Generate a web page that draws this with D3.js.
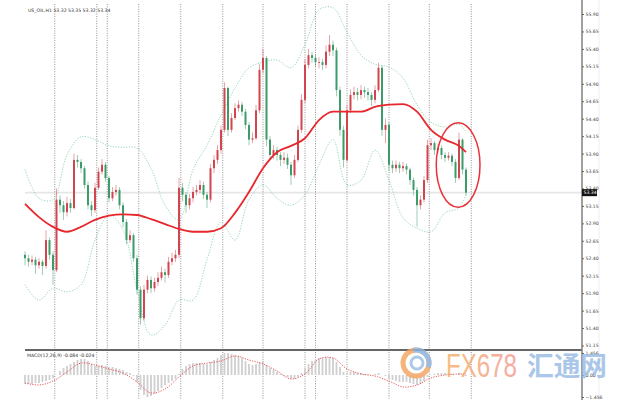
<!DOCTYPE html>
<html>
<head>
<meta charset="utf-8">
<script src="https://cdn.jsdelivr.net/npm/d3@7"></script>
<style>
    body { margin: 0; background: #fff; }
    svg { display: block; }
</style>
</head>
<body>
<div id="canvas"></div>
<script>

// chart values (US_OIL H1, one candle per 2 hours)
const title = "US_OIL,H1  53.32 53.35 53.32 53.34";
const macdTitle = "MACD(12,26,9) -0.084 -0.024";
const firstOpen = 52.45;
const lastPrice = 53.34;

const closes = [
    52.40, 52.35, 52.38, 52.30, 52.35, 52.29, 52.66, 52.45, 52.23, 53.24,
    53.16, 53.06, 53.19, 53.12, 53.81, 53.78, 53.69, 53.45, 53.16, 53.09,
    53.41, 53.64, 53.74, 53.55, 53.26, 53.35, 53.38, 53.16, 52.92, 52.66,
    52.73, 52.40, 51.95, 51.54, 51.95, 52.09, 51.97, 52.06, 52.12, 52.20,
    52.16, 52.35, 52.40, 52.45, 53.41, 53.31, 53.16, 53.26, 53.35, 53.38,
    53.45, 53.31, 53.24, 53.69, 53.81, 53.95, 54.24, 54.84, 54.24, 54.41,
    54.55, 54.60, 54.50, 54.31, 54.10, 54.12, 54.52, 55.10, 55.27, 54.10,
    53.88, 53.95, 53.88, 53.81, 53.84, 53.74, 53.59, 53.81, 54.24, 54.67,
    55.17, 55.31, 55.27, 55.21, 55.21, 55.17, 55.36, 55.46, 55.38, 54.81,
    54.24, 53.81, 54.52, 54.74, 54.78, 54.74, 54.81, 54.78, 54.74, 54.67,
    54.81, 55.13, 54.24, 54.31, 53.74, 53.69, 53.74, 53.69, 53.72, 53.67,
    53.52, 53.38, 53.16, 53.24, 53.52, 54.02, 54.05, 53.95, 53.98, 53.88,
    53.84, 53.87, 53.78, 53.55, 54.10, 53.67, 53.34
];

const highs = [
    52.50, 52.45, 52.44, 52.42, 52.40, 52.38, 52.80, 52.70, 52.50, 53.40,
    53.30, 53.22, 53.28, 53.25, 53.90, 53.88, 53.82, 53.72, 53.50, 53.22,
    53.48, 53.70, 53.82, 53.78, 53.58, 53.42, 53.45, 53.42, 53.20, 52.96,
    52.80, 52.76, 52.45, 52.00, 52.02, 52.15, 52.14, 52.12, 52.20, 52.28,
    52.25, 52.42, 52.48, 52.52, 53.55, 53.48, 53.35, 53.32, 53.42, 53.45,
    53.52, 53.50, 53.35, 53.75, 53.88, 54.02, 54.30, 54.92, 54.86, 54.48,
    54.62, 54.66, 54.64, 54.54, 54.35, 54.20, 54.60, 55.18, 55.40, 55.30,
    54.15, 54.02, 54.00, 53.92, 53.92, 53.90, 53.78, 53.88, 54.30, 54.75,
    55.25, 55.40, 55.36, 55.32, 55.28, 55.26, 55.45, 55.60, 55.52, 55.42,
    54.86, 54.30, 54.60, 54.82, 54.86, 54.84, 54.88, 54.86, 54.84, 54.78,
    54.88, 55.20, 55.16, 54.40, 54.35, 53.80, 53.80, 53.78, 53.78, 53.76,
    53.70, 53.56, 53.42, 53.30, 53.58, 54.10, 54.12, 54.08, 54.04, 54.02,
    53.92, 53.92, 53.90, 53.82, 54.20, 54.12, 53.70
];

const lows = [
    52.30, 52.28, 52.30, 52.18, 52.25, 52.16, 52.25, 52.38, 52.02, 52.20,
    53.05, 52.95, 53.00, 53.05, 53.10, 53.70, 53.62, 53.40, 53.10, 53.00,
    53.05, 53.38, 53.60, 53.50, 53.20, 53.22, 53.30, 53.10, 52.85, 52.60,
    52.62, 52.35, 51.88, 51.45, 51.50, 51.90, 51.90, 51.92, 52.00, 52.08,
    52.05, 52.12, 52.30, 52.35, 52.40, 53.22, 53.05, 53.10, 53.20, 53.30,
    53.33, 53.25, 53.12, 53.20, 53.62, 53.75, 53.90, 54.20, 54.15, 54.20,
    54.38, 54.50, 54.44, 54.25, 54.02, 54.05, 54.10, 54.48, 55.05, 54.00,
    53.80, 53.82, 53.80, 53.72, 53.75, 53.68, 53.45, 53.55, 53.78, 54.20,
    54.62, 55.12, 55.20, 55.15, 55.12, 55.10, 55.12, 55.30, 55.30, 54.72,
    54.15, 53.70, 53.78, 54.48, 54.68, 54.66, 54.68, 54.70, 54.66, 54.58,
    54.62, 54.78, 54.15, 54.05, 53.65, 53.62, 53.64, 53.62, 53.64, 53.60,
    53.45, 53.30, 52.85, 53.10, 53.20, 53.48, 53.95, 53.88, 53.90, 53.82,
    53.78, 53.80, 53.72, 53.48, 53.52, 53.60, 53.30
];

// indicator readings, one every 8 hours (last one at the final candle)
const maLine = [
    53.18, 52.99, 52.85, 52.78, 52.85, 52.95, 53.01, 53.03, 53.02, 52.96,
    52.89, 52.82, 52.78, 52.78, 52.83, 53.05, 53.35, 53.69, 53.92, 54.01,
    54.12, 54.38, 54.50, 54.50, 54.50, 54.57, 54.60, 54.61, 54.50, 54.24,
    54.10, 54.01, 53.92
];
const bbUpper = [
    53.67, 53.26, 53.24, 53.88, 54.14, 54.10, 54.01, 53.99, 53.98, 53.69,
    53.16, 52.95, 53.67, 54.02, 54.45, 54.84, 55.13, 55.21, 55.24, 55.13,
    55.46, 55.96, 55.99, 55.64, 55.31, 55.18, 55.14, 54.98, 54.60, 54.35,
    54.28, 54.32, 54.21
];
const bbLower = [
    52.02, 51.80, 51.97, 51.92, 52.02, 52.66, 53.02, 52.81, 51.95, 51.30,
    51.44, 51.80, 51.80, 52.38, 52.92, 52.66, 53.24, 53.45, 53.26, 53.16,
    53.31, 53.74, 54.10, 53.45, 53.52, 53.95, 53.52, 52.98, 52.83, 52.78,
    53.05, 53.12, 53.31
];
const macdSignal = [
    -0.53, -0.66, -0.40, 0.20, 0.79, 0.66, 0.40, 0.13, -0.46, -1.19,
    -0.93, -0.13, 0.60, 0.79, 0.93, 1.26, 0.99, 0.73, 0.26, -0.26,
    0.07, 1.06, 1.13, 0.40, 0.07, -0.07, -0.40, -0.79, -0.66, -0.20,
    0.00, 0.07, 0.07
];

// MACD histogram, one per candle
const macdHist = [
    -0.60, -0.60, -0.60, -0.53, -0.53, -0.46, -0.40, -0.33, -0.20, 0.00,
    0.26, 0.46, 0.60, 0.73, 0.86, 0.99, 1.06, 1.06, 0.93, 0.73,
    0.60, 0.60, 0.66, 0.60, 0.53, 0.53, 0.46, 0.40, 0.33, 0.20,
    0.13, -0.07, -0.46, -0.99, -1.32, -1.46, -1.39, -1.26, -1.06, -0.86,
    -0.66, -0.53, -0.40, -0.26, 0.07, 0.40, 0.60, 0.73, 0.79, 0.79,
    0.79, 0.73, 0.73, 0.86, 0.99, 1.13, 1.32, 1.46, 1.46, 1.39,
    1.32, 1.26, 1.13, 0.93, 0.73, 0.66, 0.73, 0.86, 0.93, 0.66,
    0.46, 0.33, 0.20, 0.07, -0.07, -0.13, -0.26, -0.26, -0.13, 0.13,
    0.46, 0.73, 0.93, 1.06, 1.13, 1.13, 1.19, 1.19, 1.13, 0.86,
    0.53, 0.20, 0.13, 0.20, 0.20, 0.13, 0.13, 0.07, 0.07, 0.00,
    0.07, 0.13, 0.00, -0.07, -0.26, -0.33, -0.40, -0.46, -0.46, -0.46,
    -0.53, -0.60, -0.66, -0.60, -0.40, -0.13, 0.00, 0.07, 0.13, 0.13,
    0.13, 0.13, 0.07, 0.00, 0.13, 0.07, -0.07
];

// day separators (hours from first candle)
const daySeparators = [17, 41, 47, 65, 89, 113, 136, 160, 166, 184, 208, 231, 255];

const priceTicks = [55.90, 55.65, 55.40, 55.15, 54.90, 54.65, 54.40, 54.15, 53.90, 53.65,
    53.40, 53.15, 52.90, 52.65, 52.40, 52.15, 51.90, 51.65, 51.40, 51.15];
const macdTicks = [1.456, 0, -1.456];

// circled area at the end of the chart
const highlight = { h0: 235, h1: 260, p0: 53.13, p1: 54.34 };

// dimensions
const width = 625;
const height = 400;
const axisX = 582;

const svg = d3.select("#canvas")
    .append("svg")
    .attr("width", width)
    .attr("height", height)
    .style("font-family", "'DejaVu Sans', sans-serif");

// scales
const x = d3.scaleLinear().domain([0, 252]).range([25, 466]);
const y = d3.scaleLinear().domain([51.15, 55.90]).range([345.5, 14]);
const yM = d3.scaleLinear().domain([-1.456, 1.456]).range([397, 353]);

const candles = closes.map((c, i) => ({
    h: i * 2,
    open: i === 0 ? firstOpen : closes[i - 1],
    close: c,
    high: highs[i],
    low: lows[i],
    hist: macdHist[i]
}));
const indHours = maLine.map((d, i) => i === maLine.length - 1 ? 252 : i * 8);

// current price line
svg.append("line")
    .attr("x1", 25).attr("x2", axisX)
    .attr("y1", y(lastPrice)).attr("y2", y(lastPrice))
    .style("stroke", "#e6e6e6")
    .style("stroke-width", 1.6);

// day separators
svg.append("g").selectAll("line")
    .data(daySeparators)
    .join("line")
    .attr("x1", d => x(d)).attr("x2", d => x(d))
    .attr("y1", 4).attr("y2", height)
    .style("stroke", "#777")
    .style("stroke-width", 0.8)
    .style("stroke-dasharray", "1,1.4");

// bollinger bands
const bandLine = d3.line()
    .x((d, i) => x(indHours[i]))
    .y(d => y(d))
    .curve(d3.curveCatmullRom);

[bbUpper, bbLower].forEach(band => {
    svg.append("path")
        .attr("d", bandLine(band))
        .style("fill", "none")
        .style("stroke", "#7cc9a1")
        .style("stroke-width", 0.8)
        .style("stroke-dasharray", "1.2,1.5");
});

// candles
const up = "#d2444e";
const down = "#3b9b69";
const cg = svg.append("g");
cg.selectAll("line")
    .data(candles)
    .join("line")
    .attr("x1", d => x(d.h)).attr("x2", d => x(d.h))
    .attr("y1", d => y(d.high)).attr("y2", d => y(d.low))
    .style("stroke", d => d.close >= d.open ? up : down)
    .style("stroke-opacity", 0.55)
    .style("stroke-width", 0.9);
cg.selectAll("rect")
    .data(candles)
    .join("rect")
    .attr("x", d => x(d.h) - 1)
    .attr("width", 2)
    .attr("y", d => y(Math.max(d.open, d.close)))
    .attr("height", d => Math.max(0.8, Math.abs(y(d.open) - y(d.close))))
    .style("fill", d => d.close >= d.open ? up : down);

// moving average
svg.append("path")
    .attr("d", d3.line()
        .x((d, i) => x(indHours[i]))
        .y(d => y(d))
        .curve(d3.curveMonotoneX)(maLine))
    .style("fill", "none")
    .style("stroke", "#e8262b")
    .style("stroke-width", 1.8);

// highlight ellipse
svg.append("ellipse")
    .attr("cx", (x(highlight.h0) + x(highlight.h1)) / 2)
    .attr("cy", (y(highlight.p0) + y(highlight.p1)) / 2)
    .attr("rx", (x(highlight.h1) - x(highlight.h0)) / 2)
    .attr("ry", (y(highlight.p0) - y(highlight.p1)) / 2)
    .style("fill", "none")
    .style("stroke", "#e8333a")
    .style("stroke-width", 1.5);

// panel separator
svg.append("line")
    .attr("x1", 25).attr("x2", axisX)
    .attr("y1", 350).attr("y2", 350)
    .style("stroke", "#666")
    .style("stroke-width", 1.8);

// macd histogram
svg.append("g").selectAll("rect")
    .data(candles)
    .join("rect")
    .attr("x", d => x(d.h) - 0.9)
    .attr("width", 1.8)
    .attr("y", d => Math.min(yM(d.hist), yM(0)))
    .attr("height", d => Math.abs(yM(d.hist) - yM(0)))
    .style("fill", "#cfcfcf");

// macd signal
svg.append("path")
    .attr("d", d3.line()
        .x((d, i) => x(indHours[i]))
        .y(d => yM(d))
        .curve(d3.curveCatmullRom)(macdSignal))
    .style("fill", "none")
    .style("stroke", "#e8474b")
    .style("stroke-width", 0.9)
    .style("stroke-dasharray", "1.2,1.3");

// axis
svg.append("line")
    .attr("x1", axisX).attr("x2", axisX)
    .attr("y1", 0).attr("y2", height)
    .style("stroke", "#888")
    .style("stroke-width", 1.6);
svg.append("line")
    .attr("x1", 599).attr("x2", 599)
    .attr("y1", 0).attr("y2", height)
    .style("stroke", "#eee");

const axis = svg.append("g")
    .attr("transform", `translate(${axisX},0)`)
    .call(d3.axisRight(y).tickValues(priceTicks).tickSize(2).tickPadding(1.5)
        .tickFormat(d3.format(".2f")));
axis.select(".domain").remove();

const axisM = svg.append("g")
    .attr("transform", `translate(${axisX},0)`)
    .call(d3.axisRight(yM).tickValues(macdTicks).tickSize(2).tickPadding(1.5)
        .tickFormat(d => d === 0 ? "0.00" : d3.format(".3f")(d)));
axisM.select(".domain").remove();

svg.selectAll(".tick text")
    .style("font-size", "4.6px")
    .style("fill", "#444")
    .style("font-family", "'DejaVu Sans', sans-serif");
svg.selectAll(".tick line").style("stroke", "#666");

// last price label
svg.append("rect")
    .attr("x", axisX).attr("y", y(lastPrice) - 3.5)
    .attr("width", 15).attr("height", 7)
    .style("fill", "#111");
svg.append("text")
    .attr("x", axisX + 1.5).attr("y", y(lastPrice) + 1.7)
    .style("font-size", "4.6px")
    .style("fill", "#fff")
    .text(d3.format(".2f")(lastPrice));

// titles
svg.append("text")
    .attr("x", 28).attr("y", 11.5)
    .style("font-size", "4.6px")
    .style("fill", "#333")
    .text(title);
svg.append("text")
    .attr("x", 27).attr("y", 357)
    .style("font-size", "4.6px")
    .style("fill", "#333")
    .text(macdTitle);

// watermark
const wm = svg.append("g").style("opacity", 0.85);
wm.append("circle")
    .attr("cx", 416).attr("cy", 363).attr("r", 13)
    .style("fill", "none")
    .style("stroke", "#f3a866")
    .style("stroke-width", 5);
wm.append("path")
    .attr("d", d3.arc()({ innerRadius: 10.5, outerRadius: 15.5, startAngle: -0.2, endAngle: 1.9 }))
    .attr("transform", "translate(416,363)")
    .style("fill", "#8db3de");
wm.append("circle")
    .attr("cx", 417).attr("cy", 363).attr("r", 6)
    .style("fill", "none")
    .style("stroke", "#9fc0e4")
    .style("stroke-width", 3);

const grad = svg.append("defs").append("linearGradient")
    .attr("id", "fxg").attr("x1", "0%").attr("x2", "100%");
grad.append("stop").attr("offset", "0%").attr("stop-color", "#f5b46a");
grad.append("stop").attr("offset", "100%").attr("stop-color", "#f39c94");

wm.append("text")
    .attr("x", 446).attr("y", 377)
    .attr("textLength", 71)
    .attr("lengthAdjust", "spacingAndGlyphs")
    .style("font-family", "'Liberation Sans Narrow', 'Liberation Sans', sans-serif")
    .style("font-size", "33px")
    .style("fill", "url(#fxg)")
    .text("FX678");
wm.append("text")
    .attr("x", 527).attr("y", 376)
    .attr("textLength", 80)
    .attr("lengthAdjust", "spacingAndGlyphs")
    .style("font-family", "'Noto Sans CJK SC', sans-serif")
    .style("font-weight", 700)
    .style("font-size", "27px")
    .style("fill", "#9cbde4")
    .text("汇通网");

</script>
</body>
</html>
